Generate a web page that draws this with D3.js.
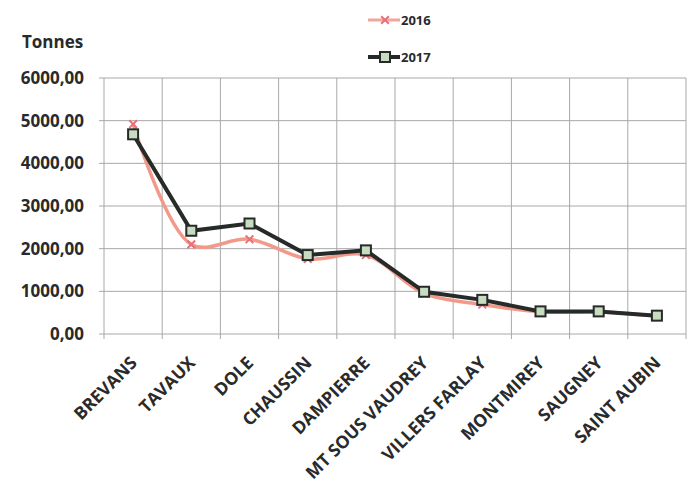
<!DOCTYPE html>
<html>
<head>
<meta charset="utf-8">
<script src="https://cdn.jsdelivr.net/npm/d3@7"></script>
<style>
  body { margin: 0; background: #fff; }
  text { font-family: "Open Sans", sans-serif; font-weight: 700; fill: #2a2a2a; }
</style>
</head>
<body>
<div class="chart"></div>
<script>
const width = 694
const height = 483
const margin = { top: 78, right: 8, bottom: 149, left: 104 }

// data
const communes = ["BREVANS", "TAVAUX", "DOLE", "CHAUSSIN", "DAMPIERRE",
  "MT SOUS VAUDREY", "VILLERS FARLAY", "MONTMIREY", "SAUGNEY", "SAINT AUBIN"]
const tonnes2016 = [4920, 2100, 2220, 1760, 1850, 950, 690, 520, 520, 420]
const tonnes2017 = [4680, 2420, 2590, 1850, 1960, 990, 800, 530, 530, 430]
const yTicks = [0, 1000, 2000, 3000, 4000, 5000, 6000]

const svg = d3.select(".chart").append("svg")
  .attr("width", width)
  .attr("height", height)

const x = d3.scaleBand()
  .domain(communes)
  .range([margin.left, width - margin.right])

const y = d3.scaleLinear()
  .domain([0, 6000])
  .range([height - margin.bottom, margin.top])

const fmt = v => d3.format(".2f")(v).replace(".", ",")

// horizontal grid + y labels
svg.append("g")
  .selectAll("line")
  .data(yTicks)
  .join("line")
  .attr("x1", margin.left - 5)
  .attr("x2", width - margin.right)
  .attr("y1", d => y(d))
  .attr("y2", d => y(d))
  .attr("stroke", "#a8a8a8")
  .attr("stroke-width", 1)

svg.append("g")
  .selectAll("text")
  .data(yTicks)
  .join("text")
  .attr("x", margin.left - 20)
  .attr("y", d => y(d))
  .attr("dy", "0.35em")
  .attr("text-anchor", "end")
  .style("font-size", "17px")
  .text(fmt)

// vertical grid at band edges, with ticks under the axis
const edges = communes.map(c => x(c)).concat([x.range()[1]])
svg.append("g")
  .selectAll("line")
  .data(edges)
  .join("line")
  .attr("x1", d => d)
  .attr("x2", d => d)
  .attr("y1", margin.top)
  .attr("y2", height - margin.bottom + 5)
  .attr("stroke", "#a8a8a8")
  .attr("stroke-width", 1)

// x labels, rotated
svg.append("g")
  .selectAll("text")
  .data(communes)
  .join("text")
  .attr("transform", d => `translate(${x(d) + x.bandwidth() / 2 + 5},${height - margin.bottom + 30}) rotate(-45)`)
  .attr("text-anchor", "end")
  .style("font-size", "17.5px")
  .text(d => d)

svg.append("text")
  .attr("x", 22)
  .attr("y", 48)
  .style("font-size", "17px")
  .text("Tonnes")

const cx = d => x(d) + x.bandwidth() / 2

// 2016: smoothed salmon line with star markers
const line2016 = d3.line()
  .x((d, i) => cx(communes[i]))
  .y(d => y(d))
  .curve(d3.curveCatmullRom.alpha(0.5))

svg.append("path")
  .datum(tonnes2016)
  .attr("d", line2016)
  .attr("fill", "none")
  .attr("stroke", "#f2998a")
  .attr("stroke-width", 3.5)

const star = d3.symbol().type(d3.symbolX).size(40)
svg.append("g")
  .selectAll("path")
  .data(tonnes2016)
  .join("path")
  .attr("transform", (d, i) => `translate(${cx(communes[i])},${y(d)})`)
  .attr("d", star)
  .attr("stroke", "#e9707a")
  .attr("stroke-width", 2)
  .attr("fill", "none")

// 2017: straight black line with square markers
const line2017 = d3.line()
  .x((d, i) => cx(communes[i]))
  .y(d => y(d))

svg.append("path")
  .datum(tonnes2017)
  .attr("d", line2017)
  .attr("fill", "none")
  .attr("stroke", "#262a28")
  .attr("stroke-width", 4)

svg.append("g")
  .selectAll("rect")
  .data(tonnes2017)
  .join("rect")
  .attr("x", (d, i) => cx(communes[i]) - 5)
  .attr("y", d => y(d) - 5)
  .attr("width", 10)
  .attr("height", 10)
  .attr("fill", "#c8dcc0")
  .attr("stroke", "#262a28")
  .attr("stroke-width", 2)

// legend
const legend = svg.append("g")
legend.append("line")
  .attr("x1", 368).attr("x2", 400).attr("y1", 20).attr("y2", 20)
  .attr("stroke", "#f2a59a").attr("stroke-width", 3)
legend.append("path")
  .attr("transform", "translate(385,20)")
  .attr("d", star)
  .attr("stroke", "#e9707a").attr("stroke-width", 2).attr("fill", "none")
legend.append("text")
  .attr("x", 401).attr("y", 20).attr("dy", "0.35em")
  .style("font-size", "13px")
  .text("2016")

legend.append("line")
  .attr("x1", 368).attr("x2", 400).attr("y1", 57).attr("y2", 57)
  .attr("stroke", "#262a28").attr("stroke-width", 4)
legend.append("rect")
  .attr("x", 380).attr("y", 52).attr("width", 10).attr("height", 10)
  .attr("fill", "#c8dcc0").attr("stroke", "#262a28").attr("stroke-width", 2)
legend.append("text")
  .attr("x", 401).attr("y", 57).attr("dy", "0.35em")
  .style("font-size", "13px")
  .text("2017")
</script>
</body>
</html>
